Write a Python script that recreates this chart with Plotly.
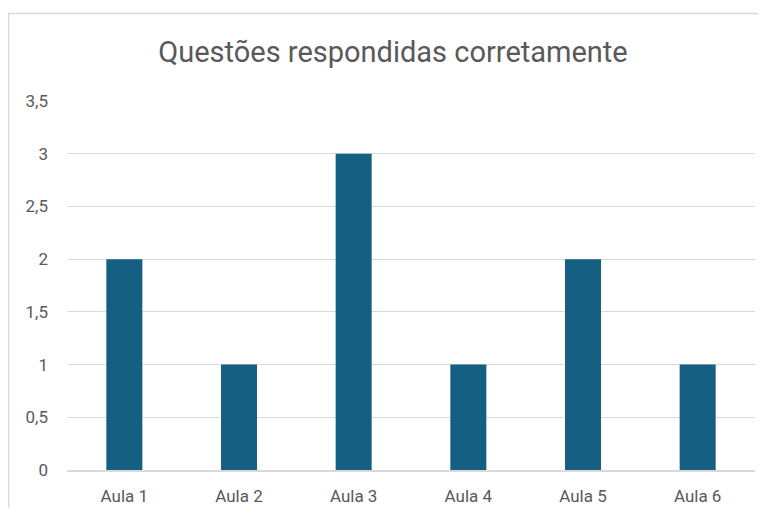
import plotly.graph_objects as go

categories = ["Aula 1", "Aula 2", "Aula 3", "Aula 4", "Aula 5", "Aula 6"]
values = [2, 1, 3, 1, 2, 1]
tick_vals = [0, 0.5, 1, 1.5, 2, 2.5, 3, 3.5]
title_text = "Questões respondidas corretamente"

fig = go.Figure(go.Bar(x=categories, y=values, marker=dict(color="#156082", line=dict(width=0)),
                       hoverinfo="x+y"))

# page body has an 8px margin
W, H = 750, 500
L, T = 59, 93
R = W - (755 - 8)
B = H - (470 - 8)
pw, ph = W - L - R, H - T - B

fig.update_layout(
    width=W, height=H,
    margin=dict(l=L, r=R, t=T, b=B, pad=0),
    paper_bgcolor="white", plot_bgcolor="white",
    separators=",.",
    bargap=0.686,
    font=dict(family="Roboto, Liberation Sans, sans-serif", color="#595959"),
    title=dict(text=title_text, x=385 / W, xanchor="center", y=1 - 44 / H, yanchor="middle",
               font=dict(size=29, color="#595959")),
    showlegend=False,
    xaxis=dict(showgrid=False, showline=True, linecolor="#D9D9D9", linewidth=1.5,
               ticks="", tickfont=dict(size=17), zeroline=False, ticklabelstandoff=10),
    yaxis=dict(range=[0, 3.5], tickvals=tick_vals, showgrid=True, gridcolor="#D9D9D9", gridwidth=1.3,
               showline=False, zeroline=False, ticks="", tickfont=dict(size=17), ticklabelstandoff=18),
    shapes=[dict(type="rect", xref="paper", yref="paper",
                 x0=(0.5 - L) / pw, x1=(W + 20 - L) / pw,
                 y0=-(B + 20) / ph, y1=(H - B - 5.5) / ph,
                 line=dict(color="#D9D9D9", width=1.5), fillcolor="rgba(0,0,0,0)", layer="below")],
)

fig.write_html("out.html")
